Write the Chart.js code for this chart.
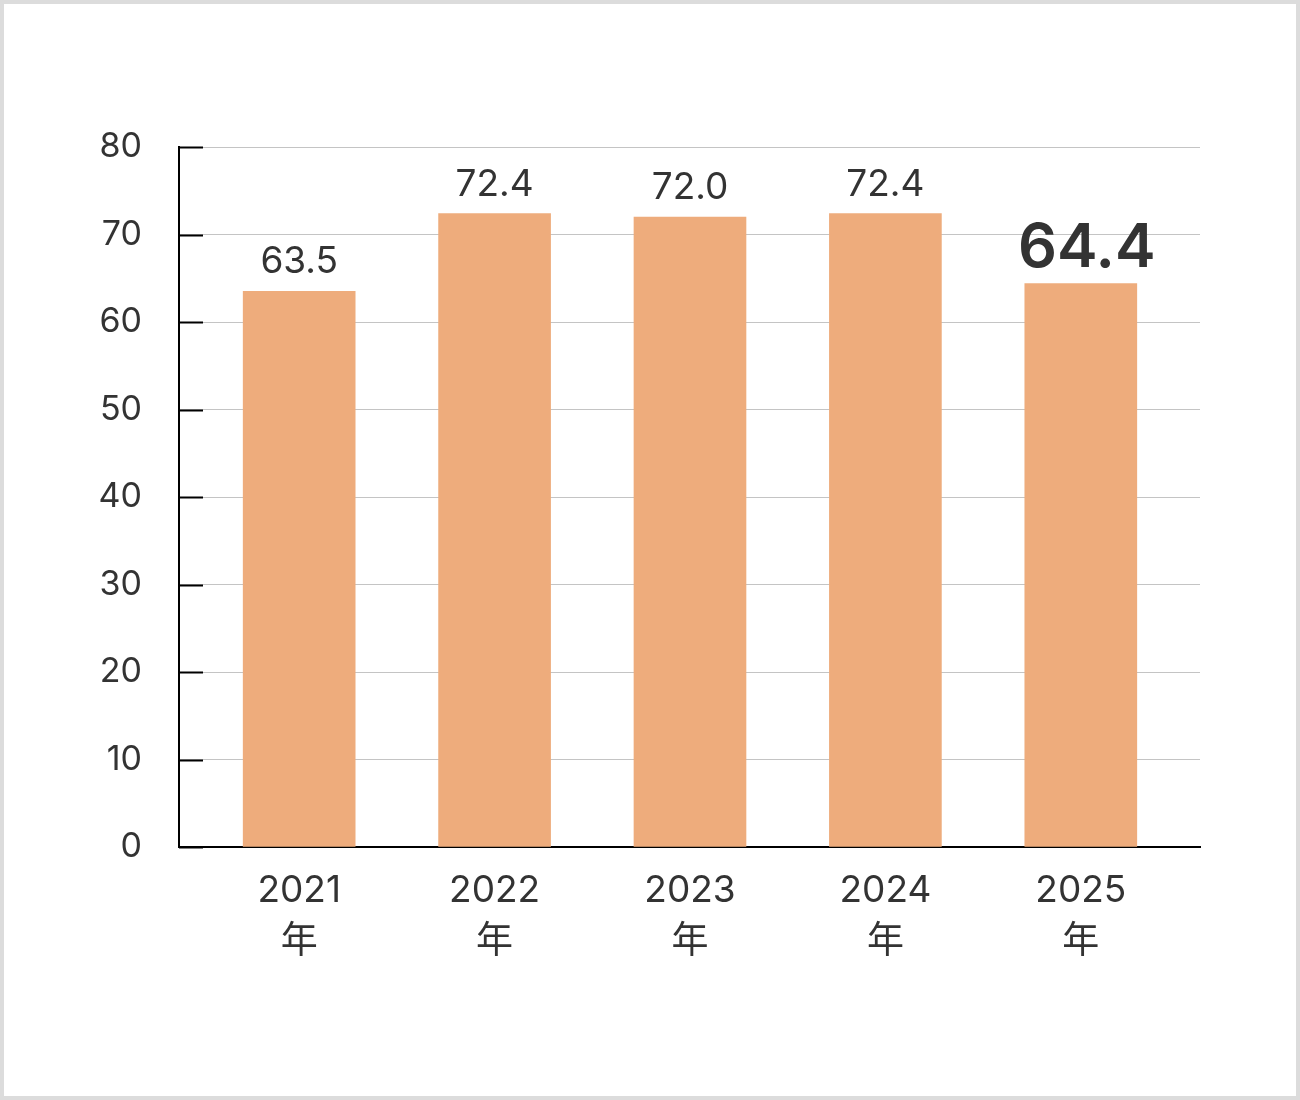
<!DOCTYPE html>
<html lang="ja">
<head>
<meta charset="utf-8">
<title>chart</title>
<script src="https://cdn.jsdelivr.net/npm/chart.js@4.4.1/dist/chart.umd.min.js"></script>
<style>
    html, body { margin: 0; padding: 0; background: #fff; }
    #wrap { position: absolute; left: 0; top: 0; width: 1300px; height: 1100px; }
    #frame {
        position: absolute; left: 0; top: 0; width: 1300px; height: 1100px;
        box-sizing: border-box; border: 4px solid #dcdcdc; pointer-events: none;
    }
</style>
</head>
<body>
<div id="wrap"><canvas id="chart"></canvas></div>
<div id="frame"></div>
<script>
'use strict';

var years = ['2021', '2022', '2023', '2024', '2025'];
var yearSuffix = '年';
var values = [63.5, 72.4, 72.0, 72.4, 64.4];
var yTicks = [0, 10, 20, 30, 40, 50, 60, 70, 80];

var FONT = 'Inter, "Noto Sans CJK JP", sans-serif';
var TEXT = '#333333';

// value labels above bars, the last year is emphasised
var valueLabels = {
    id: 'valueLabels',
    afterDatasetsDraw: function (chart) {
        var ctx = chart.ctx;
        var meta = chart.getDatasetMeta(0);
        ctx.save();
        ctx.fillStyle = TEXT;
        ctx.textAlign = 'center';
        ctx.textBaseline = 'alphabetic';
        meta.data.forEach(function (bar, i) {
            var last = i === values.length - 1;
            ctx.font = (last ? '600 61px ' : '37px ') + FONT;
            ctx.fillText(values[i].toFixed(1), bar.x + (last ? 6 : 0), bar.y - (last ? 17 : 18));
        });
        ctx.restore();
    }
};

// short black ticks drawn inside the plot from the y axis
var innerTicks = {
    id: 'innerTicks',
    afterDraw: function (chart) {
        var ctx = chart.ctx;
        var y = chart.scales.y;
        var left = chart.chartArea.left;
        ctx.save();
        ctx.strokeStyle = '#000';
        ctx.lineWidth = 2;
        yTicks.forEach(function (t) {
            var py = Math.round(y.getPixelForValue(t)) + 0.5;
            ctx.beginPath();
            ctx.moveTo(left, py);
            ctx.lineTo(left + 24, py);
            ctx.stroke();
        });
        ctx.restore();
    }
};

var canvas = document.getElementById('chart');
canvas.width = 1300;
canvas.height = 1100;

new Chart(canvas.getContext('2d'), {
    type: 'bar',
    data: {
        datasets: [{
            data: values.map(function (v, i) { return { x: i, y: v }; }),
            backgroundColor: '#eeac7c',
            borderWidth: 0,
            barThickness: 112
        }]
    },
    options: {
        responsive: false,
        animation: false,
        devicePixelRatio: 1,
        layout: { padding: { left: 0, right: 100, top: 147, bottom: 0 } },
        plugins: {
            legend: { display: false },
            tooltip: { enabled: false }
        },
        scales: {
            x: {
                type: 'linear',
                offset: false,
                min: -0.615,
                max: 4.61,
                afterBuildTicks: function (s) {
                    s.ticks = years.map(function (_, i) { return { value: i }; });
                },
                afterFit: function (s) { s.height = 253; },
                grid: { display: false, drawTicks: false, offset: false },
                border: { display: true, color: '#000', width: 2 },
                ticks: {
                    autoSkip: false,
                    maxRotation: 0,
                    padding: 19,
                    color: TEXT,
                    font: { family: FONT, size: 37, lineHeight: 1.37 },
                    callback: function (v) { return [years[v], yearSuffix]; }
                }
            },
            y: {
                min: 0,
                max: 80,
                afterBuildTicks: function (s) {
                    s.ticks = yTicks.map(function (t) { return { value: t }; });
                },
                afterFit: function (s) { s.width = 179; },
                grid: { color: '#c4c4c4', lineWidth: 1, drawTicks: false },
                border: { display: true, color: '#000', width: 2 },
                ticks: {
                    padding: 37,
                    color: TEXT,
                    font: { family: FONT, size: 34 }
                }
            }
        }
    },
    plugins: [valueLabels, innerTicks]
});
</script>
</body>
</html>
